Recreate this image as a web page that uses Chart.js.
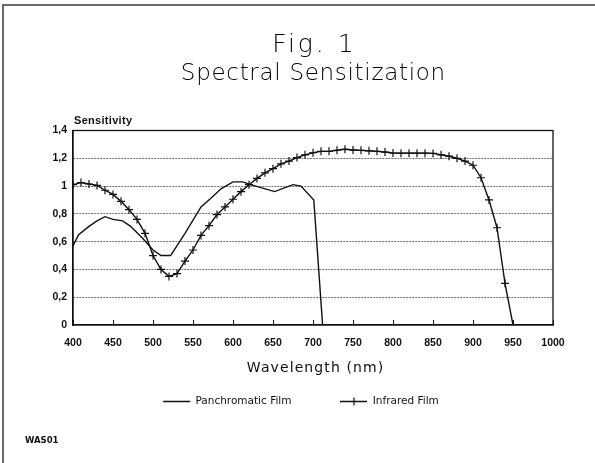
<!DOCTYPE html>
<html>
<head>
<meta charset="utf-8">
<script src="https://cdn.jsdelivr.net/npm/chart.js@4.4.1/dist/chart.umd.min.js"></script>
<style>
  html, body { margin: 0; padding: 0; background: #fff; overflow: hidden; }
  #wrap { width: 595px; height: 463px; position: relative; }
</style>
</head>
<body>
<div id="wrap"><canvas id="c" width="595" height="463"></canvas></div>
<script>
// ---- Data ----
const seriesNames = ['Panchromatic Film', 'Infrared Film'];

const panWavelengths = [400, 407, 420, 430, 440, 450, 462, 472, 487, 500, 510, 522, 540, 560, 572, 585, 600, 612, 622, 652, 675, 685, 701, 712];
const panValues      = [0.57, 0.65, 0.71, 0.75, 0.78, 0.76, 0.75, 0.71, 0.625, 0.54, 0.50, 0.50, 0.66, 0.85, 0.91, 0.98, 1.03, 1.03, 1.01, 0.96, 1.01, 1.00, 0.90, 0];

const infraredWavelengths = [400, 410, 420, 430, 440, 450, 460, 470, 480, 490,
                             500, 510, 520, 530, 540, 550, 560, 570, 580, 590,
                             600, 610, 620, 630, 640, 650, 660, 670, 680, 690,
                             700, 710, 720, 730, 740, 750, 760, 770, 780, 790,
                             800, 810, 820, 830, 840, 850, 860, 870, 880, 890,
                             900, 910, 920, 930, 940, 950];
const infraredValues = [1.01, 1.025, 1.015, 1.005, 0.97, 0.94, 0.89, 0.83, 0.76, 0.66,
                        0.50, 0.40, 0.35, 0.37, 0.46, 0.54, 0.645, 0.715, 0.795, 0.85,
                        0.905, 0.96, 1.01, 1.055, 1.095, 1.125, 1.16, 1.18, 1.205, 1.225,
                        1.24, 1.25, 1.25, 1.258, 1.265, 1.26, 1.257, 1.254, 1.25, 1.245,
                        1.238, 1.237, 1.237, 1.237, 1.237, 1.235, 1.225, 1.215, 1.20, 1.18,
                        1.15, 1.06, 0.90, 0.70, 0.30, 0];

const xTickValues = [400, 450, 500, 550, 600, 650, 700, 750, 800, 850, 900, 950, 1000];
const xTickLabels = ['400', '450', '500', '550', '600', '650', '700', '750', '800', '850', '900', '950', '1000'];
const yTickValues = [0, 0.2, 0.4, 0.6, 0.8, 1.0, 1.2, 1.4];
const yTickLabels = ['0', '0,2', '0,4', '0,6', '0,8', '1', '1,2', '1,4'];

const titleText = 'Fig. 1';
const subtitleText = 'Spectral Sensitization';
const yAxisTitle = 'Sensitivity';
const xAxisTitle = 'Wavelength (nm)';
const footnoteText = 'WAS01';

// ---- Build chart ----
const panData = panWavelengths.map((w, i) => ({ x: w, y: panValues[i] }));
const irData = infraredWavelengths.map((w, i) => ({ x: w, y: infraredValues[i] }));

// legend symbol for the infrared series: line with a cross
const irSymbol = document.createElement('canvas');
irSymbol.width = 27; irSymbol.height = 9;
(function () {
  const g = irSymbol.getContext('2d');
  g.strokeStyle = '#111'; g.lineWidth = 1.3;
  g.beginPath();
  g.moveTo(0, 4.5); g.lineTo(27, 4.5);
  g.moveTo(13.5, 0.5); g.lineTo(13.5, 8.5);
  g.stroke();
})();

function drawText(ctx, text, x, y, font, spacing, align, color) {
  ctx.save();
  ctx.font = font;
  ctx.fillStyle = color || '#111';
  ctx.textBaseline = 'alphabetic';
  ctx.textAlign = align;
  if ('letterSpacing' in ctx) ctx.letterSpacing = spacing + 'px';
  const dx = (align === 'center' && 'letterSpacing' in ctx) ? spacing / 2 : 0;
  ctx.fillText(text, x + dx, y);
  ctx.restore();
}

const decor = {
  id: 'decor',
  beforeDraw(chart) {
    const ctx = chart.ctx;
    ctx.save();
    ctx.fillStyle = '#fff';
    ctx.fillRect(0, 0, chart.width, chart.height);
    // page frame (left + top)
    ctx.strokeStyle = '#6a6a6a';
    ctx.lineWidth = 2;
    ctx.beginPath();
    ctx.moveTo(3, 463); ctx.lineTo(3, 5); ctx.lineTo(595, 5);
    ctx.stroke();
    ctx.restore();
  },
  beforeDatasetsDraw(chart) {
    const a = chart.chartArea, ctx = chart.ctx;
    ctx.save();
    ctx.strokeStyle = '#111';
    ctx.lineWidth = 1.3;
    ctx.strokeRect(a.left, a.top, a.right - a.left, a.bottom - a.top);
    ctx.restore();
  },
  afterDraw(chart) {
    const ctx = chart.ctx, a = chart.chartArea;
    const cx = (a.left + a.right) / 2;
    drawText(ctx, titleText, cx, 52, '200 25px "DejaVu Sans"', 3, 'center', '#000');
    drawText(ctx, subtitleText, cx, 80, '200 23px "DejaVu Sans"', 0.7, 'center', '#000');
    drawText(ctx, yAxisTitle, a.left + 1, 124, 'bold 11px "Liberation Sans"', 0.3, 'left');
    drawText(ctx, xAxisTitle, cx + 2, 372, '14px "DejaVu Sans"', 1.1, 'center');
    drawText(ctx, footnoteText, 25, 443, 'bold 8.5px "DejaVu Sans"', 0, 'left');
  }
};

Chart.defaults.font.family = '"Liberation Sans", "DejaVu Sans", sans-serif';
Chart.defaults.color = '#111';

new Chart(document.getElementById('c'), {
  type: 'line',
  data: {
    datasets: [
      {
        label: seriesNames[0],
        data: panData,
        borderColor: '#111',
        backgroundColor: '#111',
        borderWidth: 1.4,
        pointRadius: 0,
        pointStyle: 'line',
        tension: 0,
        fill: false
      },
      {
        label: seriesNames[1],
        data: irData,
        borderColor: '#111',
        backgroundColor: '#111',
        borderWidth: 1.4,
        pointRadius: 4,
        pointBorderWidth: 1.2,
        pointStyle: 'cross',
        tension: 0,
        fill: false
      }
    ]
  },
  options: {
    responsive: false,
    animation: false,
    devicePixelRatio: 1,
    layout: { padding: { top: 130.5, left: 49, right: 42, bottom: 46.25 } },
    scales: {
      x: {
        type: 'linear',
        min: 400,
        max: 1000,
        afterBuildTicks(scale) { scale.ticks = xTickValues.map(v => ({ value: v })); },
        afterFit(scale) { scale.height = 22.25; },
        ticks: {
          callback: (v, i) => xTickLabels[i],
          padding: 16.7,
          maxRotation: 0,
          autoSkip: false,
          font: { family: '"Liberation Sans"', size: 10.5, weight: 'bold' },
          color: '#111'
        },
        grid: { drawOnChartArea: false, drawTicks: true, tickLength: -5, color: '#111', lineWidth: 1 },
        border: { display: true, color: '#111', width: 1.3 }
      },
      y: {
        type: 'linear',
        min: 0,
        max: 1.4,
        afterBuildTicks(scale) { scale.ticks = yTickValues.map(v => ({ value: v })); },
        afterFit(scale) { scale.width = 24; },
        ticks: {
          callback: (v, i) => yTickLabels[i],
          padding: 6,
          autoSkip: false,
          font: { family: '"Liberation Sans"', size: 10.5, weight: 'bold' },
          color: '#111'
        },
        grid: {
          drawTicks: false,
          lineWidth: 1,
          color: (c) => {
            const v = c.tick ? c.tick.value : null;
            if (v === null || Math.abs(v) < 1e-9 || Math.abs(v - 1.4) < 1e-9) return 'rgba(0,0,0,0)';
            return '#6e6e6e';
          }
        },
        border: { display: true, color: '#111', width: 1.3, dash: [2, 1] }
      }
    },
    plugins: {
      title: { display: false },
      tooltip: { enabled: false },
      legend: {
        display: true,
        position: 'bottom',
        labels: {
          usePointStyle: true,
          pointStyleWidth: 27,
          padding: 49,
          color: '#111',
          font: { family: '"DejaVu Sans"', size: 10.5 },
          generateLabels(chart) {
            const items = Chart.defaults.plugins.legend.labels.generateLabels(chart);
            items.forEach((it, i) => {
              it.pointStyle = i === 0 ? 'line' : irSymbol;
              it.strokeStyle = '#111';
              it.lineWidth = 1.3;
            });
            return items;
          }
        }
      }
    }
  },
  plugins: [decor]
});
</script>
</body>
</html>
